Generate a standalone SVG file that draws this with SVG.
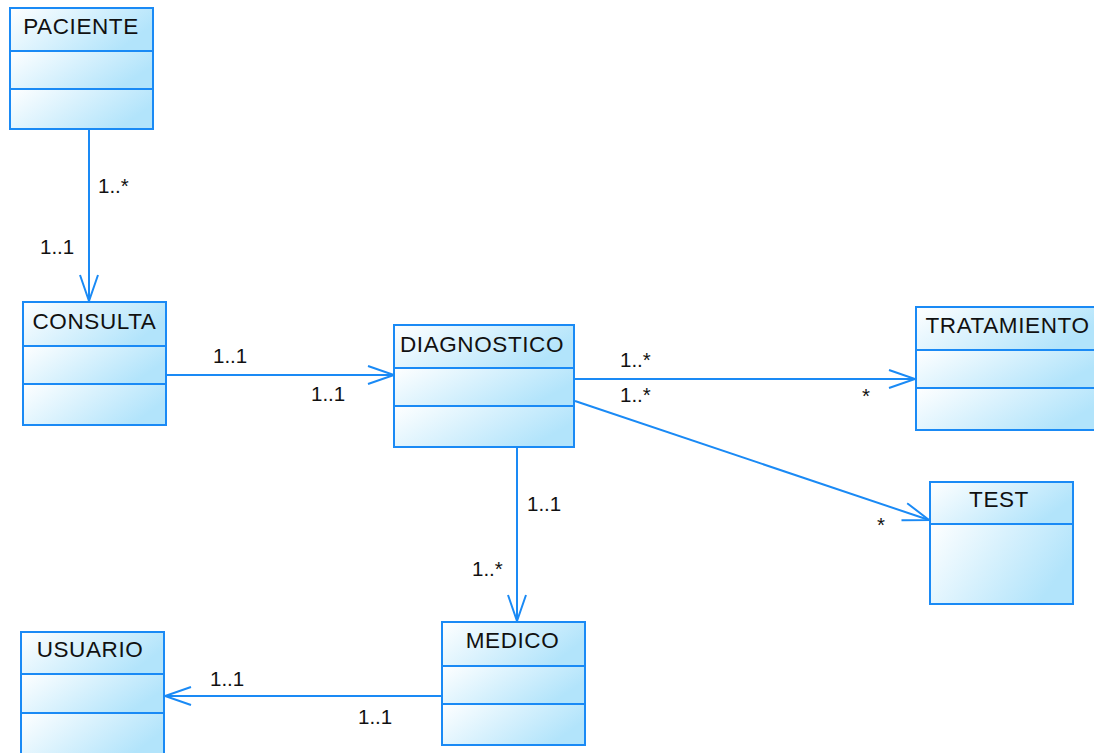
<svg xmlns="http://www.w3.org/2000/svg" width="1094" height="753" viewBox="0 0 1094 753">
  <defs>
    <linearGradient id="fillGrad" x1="0" y1="0" x2="1" y2="0.4">
      <stop offset="0" stop-color="#ffffff"/>
      <stop offset="1" stop-color="#b2e4fb"/>
    </linearGradient>
    <marker id="openArrow" markerUnits="userSpaceOnUse" markerWidth="30" markerHeight="22" refX="27" refY="10" orient="auto" viewBox="0 0 30 22">
      <path d="M1,1 L27,10 L1,19" fill="none" stroke="#1a8af5" stroke-width="2"/>
    </marker>
    <style>
      .cell { fill: url(#fillGrad); stroke: #1a8af5; stroke-width: 2; }
      .name { font-family: "Liberation Sans", Arial, sans-serif; font-size: 22.5px; letter-spacing: 0.6px; fill: #111; text-anchor: middle; }
      .mult { font-family: "Liberation Sans", Arial, sans-serif; font-size: 20.5px; fill: #111; }
      .link { fill: none; stroke: #1a8af5; stroke-width: 2; marker-end: url(#openArrow); }
    </style>
  </defs>
  <rect width="1094" height="753" fill="#ffffff"/>

  <!-- associations -->
  <g id="connectors">
    <path class="link" d="M89,130 L89,301"/>
    <path class="link" d="M167,375 L394,375"/>
    <path class="link" d="M575,379 L915,379"/>
    <path class="link" d="M575,401 L929,520"/>
    <path class="link" d="M517,448 L517,621"/>
    <path class="link" d="M441,696 L165,696"/>

    <text class="mult" x="98" y="193">1..*</text>
    <text class="mult" x="40" y="254">1..1</text>
    <text class="mult" x="213" y="363">1..1</text>
    <text class="mult" x="311" y="401">1..1</text>
    <text class="mult" x="620" y="367">1..*</text>
    <text class="mult" x="620" y="402">1..*</text>
    <text class="mult" x="862" y="403">*</text>
    <text class="mult" x="877" y="532">*</text>
    <text class="mult" x="527" y="511">1..1</text>
    <text class="mult" x="472" y="576">1..*</text>
    <text class="mult" x="210" y="686">1..1</text>
    <text class="mult" x="358" y="724">1..1</text>
  </g>

  <g id="paciente">
    <rect class="cell" x="10" y="8" width="143" height="43"/>
    <rect class="cell" x="10" y="51" width="143" height="38"/>
    <rect class="cell" x="10" y="89" width="143" height="40"/>
    <text class="name" x="81" y="34">PACIENTE</text>
  </g>

  <g id="consulta">
    <rect class="cell" x="23" y="302" width="143" height="44"/>
    <rect class="cell" x="23" y="346" width="143" height="38"/>
    <rect class="cell" x="23" y="384" width="143" height="41"/>
    <text class="name" x="94.5" y="329">CONSULTA</text>
  </g>

  <g id="diagnostico">
    <rect class="cell" x="394" y="325" width="180" height="43"/>
    <rect class="cell" x="394" y="368" width="180" height="38"/>
    <rect class="cell" x="394" y="406" width="180" height="41"/>
    <text class="name" x="482" y="352">DIAGNOSTICO</text>
  </g>

  <g id="tratamiento">
    <rect class="cell" x="916" y="307" width="182" height="43"/>
    <rect class="cell" x="916" y="350" width="182" height="38"/>
    <rect class="cell" x="916" y="388" width="182" height="42"/>
    <text class="name" x="1007.5" y="333">TRATAMIENTO</text>
  </g>

  <g id="test">
    <rect class="cell" x="930" y="482" width="143" height="42"/>
    <rect class="cell" x="930" y="524" width="143" height="80"/>
    <text class="name" x="999" y="507">TEST</text>
  </g>

  <g id="medico">
    <rect class="cell" x="442" y="622" width="143" height="44"/>
    <rect class="cell" x="442" y="666" width="143" height="38"/>
    <rect class="cell" x="442" y="704" width="143" height="41"/>
    <text class="name" x="512.5" y="648">MEDICO</text>
  </g>

  <g id="usuario">
    <rect class="cell" x="21" y="632" width="143" height="42"/>
    <rect class="cell" x="21" y="674" width="143" height="39"/>
    <rect class="cell" x="21" y="713" width="143" height="44"/>
    <text class="name" x="90" y="657">USUARIO</text>
  </g>
</svg>
